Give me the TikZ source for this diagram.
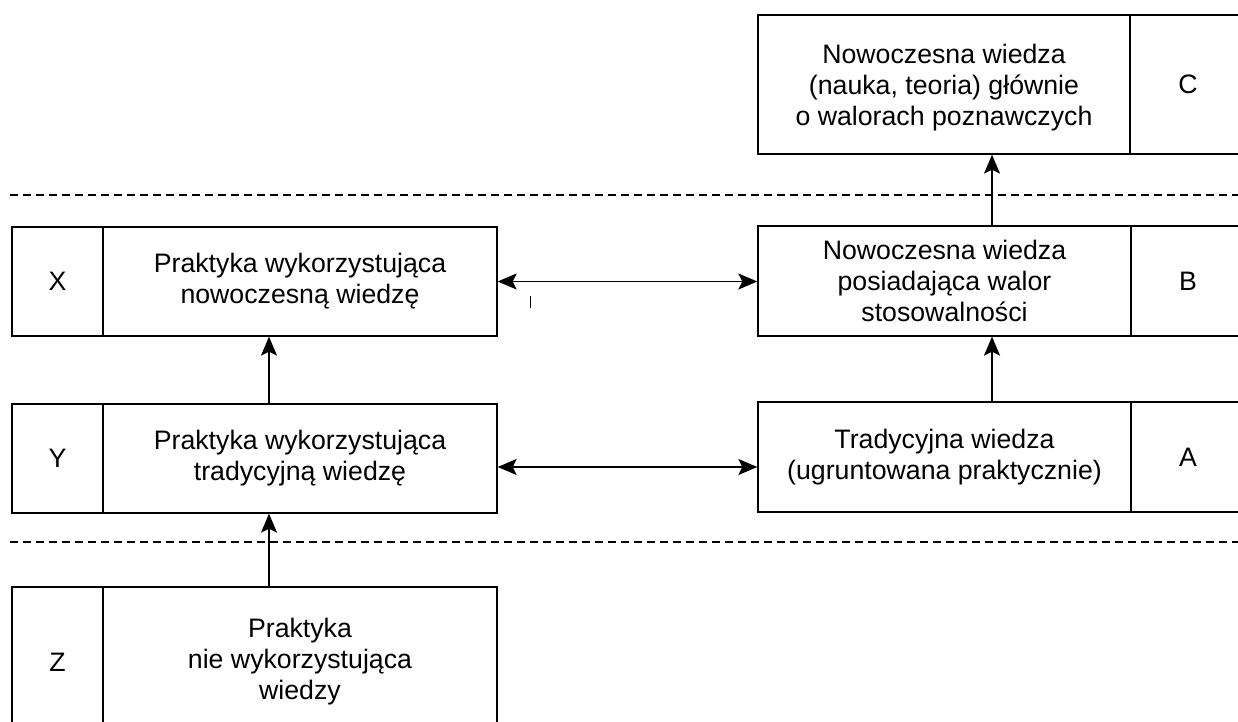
\documentclass[tikz,border=0pt]{standalone}
\usepackage{fontspec}
\setmainfont{Liberation Sans}
\usetikzlibrary{arrows.meta}
\begin{document}
\begin{tikzpicture}[x=1pt,y=1pt,
  box/.style={draw, line width=1.3pt, rectangle, inner sep=0pt, align=center,
    font=\fontsize{26.7}{31}\selectfont},
  sep/.style={dashed, dash pattern=on 8pt off 5pt, line width=1.2pt},
  tip/.tip={Stealth[length=19pt,width=16pt,inset=4pt]},
  arr/.style={line width=1.3pt, -tip},
  dbl/.style={line width=1.7pt, tip-tip}]
\useasboundingbox (0,0) rectangle (1238,721);
\clip (0,0) rectangle (1238,721);
% right column
\node[box, minimum width=372pt, minimum height=139pt, text depth=-4pt] (Cm) at (944,636.5)
  {Nowoczesna wiedza\\(nauka, teoria) głównie\\o walorach poznawczych};
\node[box, minimum width=116pt, minimum height=139pt] (Cl) at (1188,636.5) {C};
\node[box, minimum width=373pt, minimum height=110pt] (Bm) at (944.5,440)
  {Nowoczesna wiedza\\posiadająca walor\\stosowalności};
\node[box, minimum width=114pt, minimum height=110pt] (Bl) at (1188,440) {B};
\node[box, minimum width=373pt, minimum height=110pt] (Am) at (944.5,264)
  {Tradycyjna wiedza\\(ugruntowana praktycznie)};
\node[box, minimum width=114pt, minimum height=110pt] (Al) at (1188,264) {A};
% left column
\node[box, minimum width=91pt, minimum height=109pt] (Xl) at (57.5,439.5) {X};
\node[box, minimum width=394pt, minimum height=109pt] (Xm) at (300,439.5)
  {Praktyka wykorzystująca\\nowoczesną wiedzę};
\node[box, minimum width=91pt, minimum height=109pt] (Yl) at (57.5,262.5) {Y};
\node[box, minimum width=394pt, minimum height=109pt] (Ym) at (300,262.5)
  {Praktyka wykorzystująca\\tradycyjną wiedzę};
\node[box, minimum width=91pt, minimum height=150pt] (Zl) at (57.5,59) {Z};
\node[box, minimum width=394pt, minimum height=150pt] (Zm) at (300,59)
  {Praktyka\\nie wykorzystująca\\wiedzy};
% separators
\draw[sep] (10,526) -- (1238,526);
\draw[sep] (10,179) -- (1238,179);
% connectors
\draw[arr] (Bm.north -| 992,0) -- (Cm.south -| 992,0);
\draw[arr] (Am.north -| 992,0) -- (Bm.south -| 992,0);
\draw[arr] (Ym.north -| 269,0) -- (Xm.south -| 269,0);
\draw[arr] (Zm.north -| 269,0) -- (Ym.south -| 269,0);
\draw[dbl] (Xm.east) -- (Bm.west |- Xm.east);
\draw[dbl] (Ym.east |- 0,254) -- (Am.west |- 0,254);
% small stray tick
\draw[line width=0.9pt] (530,425) -- (530,413);
\end{tikzpicture}
\end{document}
